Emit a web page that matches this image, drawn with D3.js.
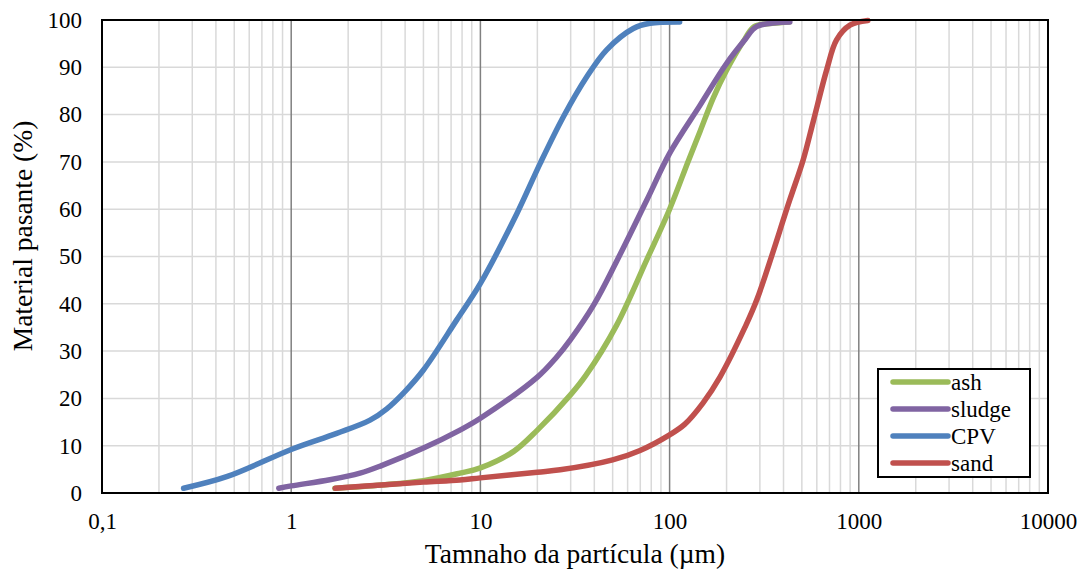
<!DOCTYPE html>
<html>
<head>
<meta charset="utf-8">
<script src="https://cdn.jsdelivr.net/npm/d3@7"></script>
<style>
  html, body { margin: 0; padding: 0; background: #fff; }
  svg { display: block; }
</style>
</head>
<body>
<svg id="chart" width="1082" height="571"></svg>
<script>
// Particle size distributions: size (µm) and cumulative passing (%)
const ashSize    = [1.7, 3, 5, 7.8, 10, 15, 20, 30, 36, 52.5, 75.7, 100, 125, 145, 170, 200, 250, 280, 350, 430];
const ashPass    = [1.0, 1.7, 2.6, 4.2, 5.3, 8.8, 13.3, 20.8, 24.8, 35.5, 49.3, 60, 70, 76.5, 83.5, 89.4, 96, 98.6, 99.3, 99.6];

const sludgeSize = [0.86, 1, 1.6, 2.31, 3, 5, 7.8, 10, 20, 25, 30, 40, 52.5, 75.7, 100, 145, 200, 250, 288, 432];
const sludgePass = [1.0, 1.5, 2.8, 4.2, 5.8, 9.5, 13.3, 15.8, 24.5, 28.5, 32.5, 40, 49, 61.9, 71.8, 82, 90.8, 95.8, 98.6, 99.6];

const cpvSize    = [0.27, 0.46, 1, 1.74, 2.61, 3.2, 4, 5, 7.5, 10, 15.6, 20.7, 27.5, 36.5, 46.5, 64.3, 78.8, 113];
const cpvPass    = [1.0, 3.5, 9.2, 12.6, 15.4, 17.8, 21.5, 26, 36.6, 44.3, 59.1, 69.7, 79.6, 88, 93.7, 98.2, 99.3, 99.6];

const sandSize   = [1.71, 3, 5, 7.8, 10, 20, 26.4, 50, 69.8, 100, 120, 150, 184.5, 250, 290, 432, 508, 574, 676, 763, 898, 1117];
const sandPass   = [1.0, 1.7, 2.3, 2.75, 3.2, 4.4, 4.9, 7.0, 9.0, 12.3, 14.5, 19, 24.5, 35, 41, 62, 70.4, 78.5, 89.4, 95.8, 98.9, 99.9];

const seriesNames  = ["ash", "sludge", "CPV", "sand"];
const seriesColors = ["#9bbb59", "#8064a2", "#4f81bd", "#c0504d"];

const xTickValues = [0.1, 1, 10, 100, 1000, 10000];
const xTickLabels = ["0,1", "1", "10", "100", "1000", "10000"];
const yTickValues = [0, 10, 20, 30, 40, 50, 60, 70, 80, 90, 100];

const xTitle = "Tamnaho da partícula (µm)";
const yTitle = "Material pasante (%)";

const FONT = "'Liberation Serif', 'Times New Roman', Tinos, serif";

const series = [
  { name: seriesNames[0], color: seriesColors[0], pts: ashSize.map((d, i) => [d, ashPass[i]]) },
  { name: seriesNames[1], color: seriesColors[1], pts: sludgeSize.map((d, i) => [d, sludgePass[i]]) },
  { name: seriesNames[2], color: seriesColors[2], pts: cpvSize.map((d, i) => [d, cpvPass[i]]) },
  { name: seriesNames[3], color: seriesColors[3], pts: sandSize.map((d, i) => [d, sandPass[i]]) }
];

const svg = d3.select("#chart");
const plot = { left: 102, top: 20, right: 1048, bottom: 493 };

const x = d3.scaleLog().domain([0.1, 10000]).range([plot.left, plot.right]);
const y = d3.scaleLinear().domain([0, 100]).range([plot.bottom, plot.top]);

const g = svg.append("g");

// Minor vertical gridlines (2..9 in each decade)
const minor = [];
for (let e = -1; e < 4; e++) {
  for (let m = 2; m <= 9; m++) minor.push(m * Math.pow(10, e));
}
g.append("g").selectAll("line").data(minor).join("line")
  .attr("x1", d => x(d)).attr("x2", d => x(d))
  .attr("y1", plot.top).attr("y2", plot.bottom)
  .attr("stroke", "#d9d9d9").attr("stroke-width", 1.5);

// Horizontal gridlines
g.append("g").selectAll("line").data(yTickValues.slice(1, -1)).join("line")
  .attr("x1", plot.left).attr("x2", plot.right)
  .attr("y1", d => y(d)).attr("y2", d => y(d))
  .attr("stroke", "#d9d9d9").attr("stroke-width", 1.5);

// Major vertical gridlines at each decade
g.append("g").selectAll("line").data(xTickValues.slice(1, -1)).join("line")
  .attr("x1", d => x(d)).attr("x2", d => x(d))
  .attr("y1", plot.top).attr("y2", plot.bottom)
  .attr("stroke", "#808080").attr("stroke-width", 1.5);

// Curves (drawn in series order so sand sits over ash at the foot)
const line = d3.line()
  .x(d => x(d[0])).y(d => y(d[1]))
  .curve(d3.curveCatmullRom.alpha(0.5));

g.append("g").selectAll("path").data(series).join("path")
  .attr("d", d => line(d.pts))
  .attr("fill", "none")
  .attr("stroke", d => d.color)
  .attr("stroke-width", 5.5)
  .attr("stroke-linecap", "round")
  .attr("stroke-linejoin", "round");

// Plot frame
g.append("rect")
  .attr("x", plot.left).attr("y", plot.top)
  .attr("width", plot.right - plot.left).attr("height", plot.bottom - plot.top)
  .attr("fill", "none").attr("stroke", "#000").attr("stroke-width", 2);

// Axes (labels only; frame drawn above)
const xAxis = d3.axisBottom(x).tickValues(xTickValues)
  .tickFormat((d, i) => xTickLabels[i]).tickSize(0).tickPadding(20);
const xg = svg.append("g").attr("transform", `translate(0,${plot.bottom})`).call(xAxis)
  .attr("font-family", FONT).attr("font-size", 23);
xg.select(".domain").remove();
xg.selectAll("text").attr("fill", "#000");

const yAxis = d3.axisLeft(y).tickValues(yTickValues).tickSize(0).tickPadding(20);
const yg = svg.append("g").attr("transform", `translate(${plot.left},0)`).call(yAxis)
  .attr("font-family", FONT).attr("font-size", 23);
yg.select(".domain").remove();
yg.selectAll("text").attr("fill", "#000");

// Axis titles
svg.append("text")
  .attr("x", (plot.left + plot.right) / 2).attr("y", 563)
  .attr("text-anchor", "middle")
  .attr("font-family", FONT).attr("font-size", 27.5)
  .text(xTitle);

svg.append("text")
  .attr("transform", "translate(32,236) rotate(-90)")
  .attr("text-anchor", "middle")
  .attr("font-family", FONT).attr("font-size", 27.5)
  .text(yTitle);

// Legend
const lg = svg.append("g").attr("transform", "translate(878,369)");
lg.append("rect").attr("width", 152).attr("height", 108)
  .attr("fill", "#fff").attr("stroke", "#000").attr("stroke-width", 2);
const items = lg.selectAll("g.item").data(series).join("g")
  .attr("class", "item")
  .attr("transform", (d, i) => `translate(0,${13 + i * 27})`);
items.append("line")
  .attr("x1", 15).attr("x2", 70).attr("y1", 0).attr("y2", 0)
  .attr("stroke", d => d.color).attr("stroke-width", 5.5).attr("stroke-linecap", "round");
items.append("text")
  .attr("x", 73).attr("y", 0).attr("dy", "0.33em")
  .attr("font-family", FONT).attr("font-size", 23)
  .text(d => d.name);
</script>
</body>
</html>
